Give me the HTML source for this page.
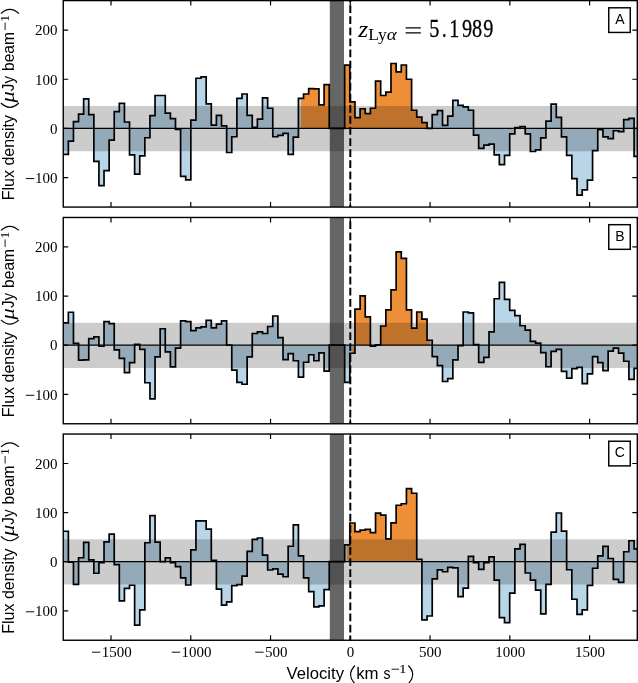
<!DOCTYPE html>
<html><head><meta charset="utf-8"><title>Spectra</title>
<style>html,body{margin:0;padding:0;background:#fff}svg{display:block;will-change:transform}text{fill:#000}</style>
</head><body>
<svg width="638" height="683" viewBox="0 0 638 683">
<rect width="638" height="683" fill="#fff"/>
<g>
<clipPath id="c0"><rect x="63.25" y="0.6" width="574.05" height="206.47"/></clipPath>
<g clip-path="url(#c0)">
<polygon points="63.28,128.41 63.28,154.47 68.37,154.47 68.37,141.2 73.46,141.2 73.46,121.53 78.55,121.53 78.55,114.16 83.65,114.16 83.65,98.92 88.74,98.92 88.74,114.65 93.84,114.65 93.84,161.35 98.93,161.35 98.93,185.69 104.03,185.69 104.03,170.69 109.13,170.69 109.13,140.21 114.23,140.21 114.23,111.7 119.33,111.7 119.33,103.34 124.43,103.34 124.43,122.02 129.53,122.02 129.53,154.96 134.63,154.96 134.63,174.13 139.74,174.13 139.74,155.94 144.84,155.94 144.84,137.76 149.95,137.76 149.95,115.63 155.05,115.63 155.05,95.48 160.16,95.48 160.16,95.48 165.27,95.48 165.27,113.18 170.38,113.18 170.38,118.58 175.49,118.58 175.49,129.4 180.6,129.4 180.6,176.35 185.71,176.35 185.71,179.79 190.83,179.79 190.83,120.06 195.94,120.06 195.94,78.27 201.05,78.27 201.05,76.8 206.17,76.8 206.17,103.84 211.29,103.84 211.29,125.22 216.41,125.22 216.41,115.39 221.52,115.39 221.52,125.96 226.64,125.96 226.64,152.5 231.77,152.5 231.77,136.77 236.89,136.77 236.89,98.43 242.01,98.43 242.01,94 247.13,94 247.13,115.39 252.26,115.39 252.26,127.28 257.38,127.28 257.38,119.07 262.51,119.07 262.51,97.94 267.64,97.94 267.64,108.26 272.77,108.26 272.77,136.77 277.89,136.77 277.89,135.3 283.02,135.3 283.02,133.33 288.16,133.33 288.16,154.47 293.29,154.47 293.29,137.07 298.42,137.07 298.42,98.43 303.55,98.43 303.55,94 308.69,94 308.69,88.6 313.83,88.6 313.83,88.84 318.96,88.84 318.96,104.82 324.1,104.82 324.1,84.66 329.24,84.66 329.24,128.41 334.38,128.41 334.38,128.41 339.52,128.41 339.52,128.41 344.66,128.41 344.66,65.2 349.8,65.2 349.8,101.87 354.95,101.87 354.95,117.6 360.09,117.6 360.09,108.75 365.24,108.75 365.24,113.67 370.38,113.67 370.38,108.26 375.53,108.26 375.53,81.22 380.68,81.22 380.68,95.48 385.83,95.48 385.83,92.04 390.98,92.04 390.98,63.52 396.13,63.52 396.13,71.88 401.28,71.88 401.28,65 406.43,65 406.43,79.26 411.59,79.26 411.59,110.23 416.74,110.23 416.74,117.11 421.9,117.11 421.9,122.71 427.05,122.71 427.05,128.41 432.21,128.41 432.21,114.65 437.37,114.65 437.37,110.72 442.53,110.72 442.53,125.47 447.69,125.47 447.69,116.12 452.85,116.12 452.85,100.39 458.01,100.39 458.01,105.31 463.18,105.31 463.18,106.78 468.34,106.78 468.34,110.23 473.51,110.23 473.51,135.05 478.67,135.05 478.67,148.37 483.84,148.37 483.84,145.13 489.01,145.13 489.01,144.15 494.18,144.15 494.18,154.96 499.35,154.96 499.35,164.55 504.52,164.55 504.52,155.45 509.69,155.45 509.69,133.82 514.86,133.82 514.86,127.68 520.04,127.68 520.04,126.69 525.21,126.69 525.21,133.82 530.39,133.82 530.39,151.52 535.56,151.52 535.56,149.85 540.74,149.85 540.74,137.95 545.92,137.95 545.92,121.14 551.1,121.14 551.1,104.08 556.28,104.08 556.28,117.45 561.46,117.45 561.46,136.92 566.64,136.92 566.64,155.45 571.83,155.45 571.83,178.56 577.01,178.56 577.01,195.03 582.2,195.03 582.2,189.86 587.38,189.86 587.38,180.03 592.57,180.03 592.57,150.54 597.76,150.54 597.76,129.64 602.94,129.64 602.94,136.92 608.13,136.92 608.13,138.64 613.33,138.64 613.33,130.77 618.52,130.77 618.52,131.66 623.71,131.66 623.71,119.57 628.9,119.57 628.9,118.29 634.1,118.29 634.1,156.29 637.3,156.29 637.3,128.41" fill="#b9d5e8"/>
<polygon points="300.99,128.41 300.99,98.43 303.55,98.43 303.55,94 308.69,94 308.69,88.6 313.83,88.6 313.83,88.84 318.96,88.84 318.96,104.82 324.1,104.82 324.1,84.66 329.24,84.66 329.24,128.41 334.38,128.41 334.38,128.41 339.52,128.41 339.52,128.41 344.66,128.41 344.66,65.2 349.8,65.2 349.8,101.87 354.95,101.87 354.95,117.6 360.09,117.6 360.09,108.75 365.24,108.75 365.24,113.67 370.38,113.67 370.38,108.26 375.53,108.26 375.53,81.22 380.68,81.22 380.68,95.48 385.83,95.48 385.83,92.04 390.98,92.04 390.98,63.52 396.13,63.52 396.13,71.88 401.28,71.88 401.28,65 406.43,65 406.43,79.26 411.59,79.26 411.59,110.23 416.74,110.23 416.74,117.11 421.9,117.11 421.9,122.71 427.05,122.71 427.05,128.41 429.63,128.41 429.63,128.41" fill="#ee8f38"/>
<rect x="63.25" y="106" width="574.05" height="45.23" fill="#000" fill-opacity="0.2"/>
<line x1="63.25" y1="128.41" x2="637.3" y2="128.41" stroke="#000" stroke-width="1.3"/>
<polyline points="63.28,154.47 68.37,154.47 68.37,141.2 73.46,141.2 73.46,121.53 78.55,121.53 78.55,114.16 83.65,114.16 83.65,98.92 88.74,98.92 88.74,114.65 93.84,114.65 93.84,161.35 98.93,161.35 98.93,185.69 104.03,185.69 104.03,170.69 109.13,170.69 109.13,140.21 114.23,140.21 114.23,111.7 119.33,111.7 119.33,103.34 124.43,103.34 124.43,122.02 129.53,122.02 129.53,154.96 134.63,154.96 134.63,174.13 139.74,174.13 139.74,155.94 144.84,155.94 144.84,137.76 149.95,137.76 149.95,115.63 155.05,115.63 155.05,95.48 160.16,95.48 160.16,95.48 165.27,95.48 165.27,113.18 170.38,113.18 170.38,118.58 175.49,118.58 175.49,129.4 180.6,129.4 180.6,176.35 185.71,176.35 185.71,179.79 190.83,179.79 190.83,120.06 195.94,120.06 195.94,78.27 201.05,78.27 201.05,76.8 206.17,76.8 206.17,103.84 211.29,103.84 211.29,125.22 216.41,125.22 216.41,115.39 221.52,115.39 221.52,125.96 226.64,125.96 226.64,152.5 231.77,152.5 231.77,136.77 236.89,136.77 236.89,98.43 242.01,98.43 242.01,94 247.13,94 247.13,115.39 252.26,115.39 252.26,127.28 257.38,127.28 257.38,119.07 262.51,119.07 262.51,97.94 267.64,97.94 267.64,108.26 272.77,108.26 272.77,136.77 277.89,136.77 277.89,135.3 283.02,135.3 283.02,133.33 288.16,133.33 288.16,154.47 293.29,154.47 293.29,137.07 298.42,137.07 298.42,98.43 303.55,98.43 303.55,94 308.69,94 308.69,88.6 313.83,88.6 313.83,88.84 318.96,88.84 318.96,104.82 324.1,104.82 324.1,84.66 329.24,84.66 329.24,128.41 334.38,128.41 334.38,128.41 339.52,128.41 339.52,128.41 344.66,128.41 344.66,65.2 349.8,65.2 349.8,101.87 354.95,101.87 354.95,117.6 360.09,117.6 360.09,108.75 365.24,108.75 365.24,113.67 370.38,113.67 370.38,108.26 375.53,108.26 375.53,81.22 380.68,81.22 380.68,95.48 385.83,95.48 385.83,92.04 390.98,92.04 390.98,63.52 396.13,63.52 396.13,71.88 401.28,71.88 401.28,65 406.43,65 406.43,79.26 411.59,79.26 411.59,110.23 416.74,110.23 416.74,117.11 421.9,117.11 421.9,122.71 427.05,122.71 427.05,128.41 432.21,128.41 432.21,114.65 437.37,114.65 437.37,110.72 442.53,110.72 442.53,125.47 447.69,125.47 447.69,116.12 452.85,116.12 452.85,100.39 458.01,100.39 458.01,105.31 463.18,105.31 463.18,106.78 468.34,106.78 468.34,110.23 473.51,110.23 473.51,135.05 478.67,135.05 478.67,148.37 483.84,148.37 483.84,145.13 489.01,145.13 489.01,144.15 494.18,144.15 494.18,154.96 499.35,154.96 499.35,164.55 504.52,164.55 504.52,155.45 509.69,155.45 509.69,133.82 514.86,133.82 514.86,127.68 520.04,127.68 520.04,126.69 525.21,126.69 525.21,133.82 530.39,133.82 530.39,151.52 535.56,151.52 535.56,149.85 540.74,149.85 540.74,137.95 545.92,137.95 545.92,121.14 551.1,121.14 551.1,104.08 556.28,104.08 556.28,117.45 561.46,117.45 561.46,136.92 566.64,136.92 566.64,155.45 571.83,155.45 571.83,178.56 577.01,178.56 577.01,195.03 582.2,195.03 582.2,189.86 587.38,189.86 587.38,180.03 592.57,180.03 592.57,150.54 597.76,150.54 597.76,129.64 602.94,129.64 602.94,136.92 608.13,136.92 608.13,138.64 613.33,138.64 613.33,130.77 618.52,130.77 618.52,131.66 623.71,131.66 623.71,119.57 628.9,119.57 628.9,118.29 634.1,118.29 634.1,156.29 637.3,156.29" fill="none" stroke="#000" stroke-width="1.7" stroke-linejoin="miter"/>
<rect x="329.8" y="0.6" width="14.2" height="206.47" fill="#000" fill-opacity="0.6"/>
<line x1="350.3" y1="0.6" x2="350.3" y2="207.07" stroke="#000" stroke-width="2.0" stroke-dasharray="7.75 3.33" stroke-dashoffset="6.45"/>
</g>
<path d="M111 0.6v5M111 207.07v-5M190.77 0.6v5M190.77 207.07v-5M270.54 0.6v5M270.54 207.07v-5M350.3 0.6v5M350.3 207.07v-5M430.06 0.6v5M430.06 207.07v-5M509.83 0.6v5M509.83 207.07v-5M589.6 0.6v5M589.6 207.07v-5M63.25 177.57h5M637.3 177.57h-5M63.25 128.41h5M637.3 128.41h-5M63.25 79.26h5M637.3 79.26h-5M63.25 30.1h5M637.3 30.1h-5" stroke="#000" stroke-width="1.2" fill="none"/>
<rect x="63.25" y="0.6" width="574.05" height="206.47" fill="none" stroke="#000" stroke-width="1.4"/>
<text x="57.5" y="182.87" text-anchor="end" font-family="Liberation Serif, serif" font-size="15">100</text>
<path d="M25.9 178.57h8.4" stroke="#000" stroke-width="0.95"/>
<text x="57.5" y="133.71" text-anchor="end" font-family="Liberation Serif, serif" font-size="15">0</text>
<text x="57.5" y="84.56" text-anchor="end" font-family="Liberation Serif, serif" font-size="15">100</text>
<text x="57.5" y="35.4" text-anchor="end" font-family="Liberation Serif, serif" font-size="15">200</text>
<rect x="608.75" y="7.8" width="21.5" height="24.65" fill="#fff" stroke="#000" stroke-width="1.45"/>
<text x="619.8" y="23.9" text-anchor="middle" font-family="Liberation Sans, sans-serif" font-size="14">A</text>
<g transform="translate(14.2,199.2) rotate(-90)" font-family="Liberation Sans, sans-serif" font-size="16.2">
<text x="-1.1" y="0" textLength="30.3" lengthAdjust="spacingAndGlyphs">Flux</text>
<text x="33.6" y="0" textLength="50.6" lengthAdjust="spacingAndGlyphs">density</text>
<path d="M96.2 -13.3Q87.6 -4.3 96.2 4.7" fill="none" stroke="#000" stroke-width="1.15"/>
<text x="96.6" y="0" font-family="Liberation Serif, serif" font-style="italic" font-size="18.5" textLength="11.2" lengthAdjust="spacingAndGlyphs">μ</text>
<text x="108" y="0" textLength="15.2" lengthAdjust="spacingAndGlyphs">Jy</text>
<text x="128.2" y="0" textLength="39" lengthAdjust="spacingAndGlyphs">beam</text>
<path d="M169.2 -9.1h7.4" stroke="#000" stroke-width="0.9"/>
<text x="177.3" y="-5.7" font-size="11.6" font-family="Liberation Serif, serif" textLength="7.2" lengthAdjust="spacingAndGlyphs">1</text>
<path d="M185.7 -13.3Q193.9 -4.3 185.7 4.7" fill="none" stroke="#000" stroke-width="1.15"/>
</g>
</g>
<g>
<clipPath id="c1"><rect x="63.25" y="217.48" width="574.05" height="206.28"/></clipPath>
<g clip-path="url(#c1)">
<polygon points="63.28,345.18 63.28,322.78 68.37,322.78 68.37,312.27 73.46,312.27 73.46,343.46 78.55,343.46 78.55,360.21 83.65,360.21 83.65,359.81 88.74,359.81 88.74,338.55 93.84,338.55 93.84,336.83 98.93,336.83 98.93,346.06 104.03,346.06 104.03,321.6 109.13,321.6 109.13,323.57 114.23,323.57 114.23,349.84 119.33,349.84 119.33,358.44 124.43,358.44 124.43,372.68 129.53,372.68 129.53,362.61 134.63,362.61 134.63,344.39 139.74,344.39 139.74,349.45 144.84,349.45 144.84,382.75 149.95,382.75 149.95,398.96 155.05,398.96 155.05,356.96 160.16,356.96 160.16,328.77 165.27,328.77 165.27,351.91 170.38,351.91 170.38,366.79 175.49,366.79 175.49,348.12 180.6,348.12 180.6,320.87 185.71,320.87 185.71,321.6 190.83,321.6 190.83,330.64 195.94,330.64 195.94,327.84 201.05,327.84 201.05,326.91 206.17,326.91 206.17,320.33 211.29,320.33 211.29,327.84 216.41,327.84 216.41,324.06 221.52,324.06 221.52,320.87 226.64,320.87 226.64,345.18 231.77,345.18 231.77,370.18 236.89,370.18 236.89,382.41 242.01,382.41 242.01,384.27 247.13,384.27 247.13,356.96 252.26,356.96 252.26,333.49 257.38,333.49 257.38,331.97 262.51,331.97 262.51,333.49 267.64,333.49 267.64,326.51 272.77,326.51 272.77,316 277.89,316 277.89,337.61 283.02,337.61 283.02,359.67 288.16,359.67 288.16,353.53 293.29,353.53 293.29,360.75 298.42,360.75 298.42,377.1 303.55,377.1 303.55,362.27 308.69,362.27 308.69,354.75 313.83,354.75 313.83,360.75 318.96,360.75 318.96,352.84 324.1,352.84 324.1,371.11 329.24,371.11 329.24,345.18 334.38,345.18 334.38,345.18 339.52,345.18 339.52,345.18 344.66,345.18 344.66,382.41 349.8,382.41 349.8,353.23 354.95,353.23 354.95,309.03 360.09,309.03 360.09,295.87 365.24,295.87 365.24,316.94 370.38,316.94 370.38,346.06 375.53,346.06 375.53,344.78 380.68,344.78 380.68,326.02 385.83,326.02 385.83,309.81 390.98,309.81 390.98,289.92 396.13,289.92 396.13,251.86 401.28,251.86 401.28,258.39 406.43,258.39 406.43,309.81 411.59,309.81 411.59,328.18 416.74,328.18 416.74,312.02 421.9,312.02 421.9,319.15 427.05,319.15 427.05,340.27 432.21,340.27 432.21,356.72 437.37,356.72 437.37,365.56 442.53,365.56 442.53,381.52 447.69,381.52 447.69,378.57 452.85,378.57 452.85,359.91 458.01,359.91 458.01,345.67 463.18,345.67 463.18,312.02 468.34,312.02 468.34,312.96 473.51,312.96 473.51,344.69 478.67,344.69 478.67,362.37 483.84,362.37 483.84,357.46 489.01,357.46 489.01,331.92 494.18,331.92 494.18,298.76 499.35,298.76 499.35,282.31 504.52,282.31 504.52,299.4 509.69,299.4 509.69,310.31 514.86,310.31 514.86,315.56 520.04,315.56 520.04,325.73 525.21,325.73 525.21,330.05 530.39,330.05 530.39,341.35 535.56,341.35 535.56,343.21 540.74,343.21 540.74,352.64 545.92,352.64 545.92,366.74 551.1,366.74 551.1,351.32 556.28,351.32 556.28,349.45 561.46,349.45 561.46,371.45 566.64,371.45 566.64,378.03 571.83,378.03 571.83,368.6 577.01,368.6 577.01,367.28 582.2,367.28 582.2,383.68 587.38,383.68 587.38,373.86 592.57,373.86 592.57,356.72 597.76,356.72 597.76,362.61 602.94,362.61 602.94,370.57 608.13,370.57 608.13,351.22 613.33,351.22 613.33,348.12 618.52,348.12 618.52,353.04 623.71,353.04 623.71,361.24 628.9,361.24 628.9,379.41 634.1,379.41 634.1,368.46 637.3,368.46 637.3,345.18" fill="#b9d5e8"/>
<polygon points="352.38,345.18 352.38,353.23 354.95,353.23 354.95,309.03 360.09,309.03 360.09,295.87 365.24,295.87 365.24,316.94 370.38,316.94 370.38,346.06 375.53,346.06 375.53,344.78 380.68,344.78 380.68,326.02 385.83,326.02 385.83,309.81 390.98,309.81 390.98,289.92 396.13,289.92 396.13,251.86 401.28,251.86 401.28,258.39 406.43,258.39 406.43,309.81 411.59,309.81 411.59,328.18 416.74,328.18 416.74,312.02 421.9,312.02 421.9,319.15 427.05,319.15 427.05,340.27 429.63,340.27 429.63,345.18" fill="#ee8f38"/>
<rect x="63.25" y="322.78" width="574.05" height="45.19" fill="#000" fill-opacity="0.2"/>
<line x1="63.25" y1="345.18" x2="637.3" y2="345.18" stroke="#000" stroke-width="1.3"/>
<polyline points="63.28,322.78 68.37,322.78 68.37,312.27 73.46,312.27 73.46,343.46 78.55,343.46 78.55,360.21 83.65,360.21 83.65,359.81 88.74,359.81 88.74,338.55 93.84,338.55 93.84,336.83 98.93,336.83 98.93,346.06 104.03,346.06 104.03,321.6 109.13,321.6 109.13,323.57 114.23,323.57 114.23,349.84 119.33,349.84 119.33,358.44 124.43,358.44 124.43,372.68 129.53,372.68 129.53,362.61 134.63,362.61 134.63,344.39 139.74,344.39 139.74,349.45 144.84,349.45 144.84,382.75 149.95,382.75 149.95,398.96 155.05,398.96 155.05,356.96 160.16,356.96 160.16,328.77 165.27,328.77 165.27,351.91 170.38,351.91 170.38,366.79 175.49,366.79 175.49,348.12 180.6,348.12 180.6,320.87 185.71,320.87 185.71,321.6 190.83,321.6 190.83,330.64 195.94,330.64 195.94,327.84 201.05,327.84 201.05,326.91 206.17,326.91 206.17,320.33 211.29,320.33 211.29,327.84 216.41,327.84 216.41,324.06 221.52,324.06 221.52,320.87 226.64,320.87 226.64,345.18 231.77,345.18 231.77,370.18 236.89,370.18 236.89,382.41 242.01,382.41 242.01,384.27 247.13,384.27 247.13,356.96 252.26,356.96 252.26,333.49 257.38,333.49 257.38,331.97 262.51,331.97 262.51,333.49 267.64,333.49 267.64,326.51 272.77,326.51 272.77,316 277.89,316 277.89,337.61 283.02,337.61 283.02,359.67 288.16,359.67 288.16,353.53 293.29,353.53 293.29,360.75 298.42,360.75 298.42,377.1 303.55,377.1 303.55,362.27 308.69,362.27 308.69,354.75 313.83,354.75 313.83,360.75 318.96,360.75 318.96,352.84 324.1,352.84 324.1,371.11 329.24,371.11 329.24,345.18 334.38,345.18 334.38,345.18 339.52,345.18 339.52,345.18 344.66,345.18 344.66,382.41 349.8,382.41 349.8,353.23 354.95,353.23 354.95,309.03 360.09,309.03 360.09,295.87 365.24,295.87 365.24,316.94 370.38,316.94 370.38,346.06 375.53,346.06 375.53,344.78 380.68,344.78 380.68,326.02 385.83,326.02 385.83,309.81 390.98,309.81 390.98,289.92 396.13,289.92 396.13,251.86 401.28,251.86 401.28,258.39 406.43,258.39 406.43,309.81 411.59,309.81 411.59,328.18 416.74,328.18 416.74,312.02 421.9,312.02 421.9,319.15 427.05,319.15 427.05,340.27 432.21,340.27 432.21,356.72 437.37,356.72 437.37,365.56 442.53,365.56 442.53,381.52 447.69,381.52 447.69,378.57 452.85,378.57 452.85,359.91 458.01,359.91 458.01,345.67 463.18,345.67 463.18,312.02 468.34,312.02 468.34,312.96 473.51,312.96 473.51,344.69 478.67,344.69 478.67,362.37 483.84,362.37 483.84,357.46 489.01,357.46 489.01,331.92 494.18,331.92 494.18,298.76 499.35,298.76 499.35,282.31 504.52,282.31 504.52,299.4 509.69,299.4 509.69,310.31 514.86,310.31 514.86,315.56 520.04,315.56 520.04,325.73 525.21,325.73 525.21,330.05 530.39,330.05 530.39,341.35 535.56,341.35 535.56,343.21 540.74,343.21 540.74,352.64 545.92,352.64 545.92,366.74 551.1,366.74 551.1,351.32 556.28,351.32 556.28,349.45 561.46,349.45 561.46,371.45 566.64,371.45 566.64,378.03 571.83,378.03 571.83,368.6 577.01,368.6 577.01,367.28 582.2,367.28 582.2,383.68 587.38,383.68 587.38,373.86 592.57,373.86 592.57,356.72 597.76,356.72 597.76,362.61 602.94,362.61 602.94,370.57 608.13,370.57 608.13,351.22 613.33,351.22 613.33,348.12 618.52,348.12 618.52,353.04 623.71,353.04 623.71,361.24 628.9,361.24 628.9,379.41 634.1,379.41 634.1,368.46 637.3,368.46" fill="none" stroke="#000" stroke-width="1.7" stroke-linejoin="miter"/>
<rect x="329.8" y="217.48" width="14.2" height="206.28" fill="#000" fill-opacity="0.6"/>
<line x1="350.3" y1="217.48" x2="350.3" y2="423.76" stroke="#000" stroke-width="2.0" stroke-dasharray="7.75 3.33" stroke-dashoffset="7.2"/>
</g>
<path d="M111 217.48v5M111 423.76v-5M190.77 217.48v5M190.77 423.76v-5M270.54 217.48v5M270.54 423.76v-5M350.3 217.48v5M350.3 423.76v-5M430.06 217.48v5M430.06 423.76v-5M509.83 217.48v5M509.83 423.76v-5M589.6 217.48v5M589.6 423.76v-5M63.25 394.29h5M637.3 394.29h-5M63.25 345.18h5M637.3 345.18h-5M63.25 296.06h5M637.3 296.06h-5M63.25 246.95h5M637.3 246.95h-5" stroke="#000" stroke-width="1.2" fill="none"/>
<rect x="63.25" y="217.48" width="574.05" height="206.28" fill="none" stroke="#000" stroke-width="1.4"/>
<text x="57.5" y="399.59" text-anchor="end" font-family="Liberation Serif, serif" font-size="15">100</text>
<path d="M25.9 395.29h8.4" stroke="#000" stroke-width="0.95"/>
<text x="57.5" y="350.48" text-anchor="end" font-family="Liberation Serif, serif" font-size="15">0</text>
<text x="57.5" y="301.36" text-anchor="end" font-family="Liberation Serif, serif" font-size="15">100</text>
<text x="57.5" y="252.25" text-anchor="end" font-family="Liberation Serif, serif" font-size="15">200</text>
<rect x="608.75" y="224.68" width="21.5" height="24.65" fill="#fff" stroke="#000" stroke-width="1.45"/>
<text x="619.8" y="240.78" text-anchor="middle" font-family="Liberation Sans, sans-serif" font-size="14">B</text>
<g transform="translate(14.2,416.08) rotate(-90)" font-family="Liberation Sans, sans-serif" font-size="16.2">
<text x="-1.1" y="0" textLength="30.3" lengthAdjust="spacingAndGlyphs">Flux</text>
<text x="33.6" y="0" textLength="50.6" lengthAdjust="spacingAndGlyphs">density</text>
<path d="M96.2 -13.3Q87.6 -4.3 96.2 4.7" fill="none" stroke="#000" stroke-width="1.15"/>
<text x="96.6" y="0" font-family="Liberation Serif, serif" font-style="italic" font-size="18.5" textLength="11.2" lengthAdjust="spacingAndGlyphs">μ</text>
<text x="108" y="0" textLength="15.2" lengthAdjust="spacingAndGlyphs">Jy</text>
<text x="128.2" y="0" textLength="39" lengthAdjust="spacingAndGlyphs">beam</text>
<path d="M169.2 -9.1h7.4" stroke="#000" stroke-width="0.9"/>
<text x="177.3" y="-5.7" font-size="11.6" font-family="Liberation Serif, serif" textLength="7.2" lengthAdjust="spacingAndGlyphs">1</text>
<path d="M185.7 -13.3Q193.9 -4.3 185.7 4.7" fill="none" stroke="#000" stroke-width="1.15"/>
</g>
</g>
<g>
<clipPath id="c2"><rect x="63.25" y="434.04" width="574.05" height="206.21"/></clipPath>
<g clip-path="url(#c2)">
<polygon points="63.28,561.69 63.28,531.25 68.37,531.25 68.37,562.18 73.46,562.18 73.46,584.28 78.55,584.28 78.55,557.77 83.65,557.77 83.65,542.35 88.74,542.35 88.74,559.88 93.84,559.88 93.84,573.23 98.93,573.23 98.93,562.68 104.03,562.68 104.03,541.81 109.13,541.81 109.13,534.2 114.23,534.2 114.23,564.64 119.33,564.64 119.33,600.82 124.43,600.82 124.43,588.45 129.53,588.45 129.53,585.26 134.63,585.26 134.63,625.03 139.74,625.03 139.74,609.81 144.84,609.81 144.84,542.74 149.95,542.74 149.95,515.54 155.05,515.54 155.05,542.15 160.16,542.15 160.16,561.69 165.27,561.69 165.27,557.96 170.38,557.96 170.38,562.68 175.49,562.68 175.49,566.6 180.6,566.6 180.6,577.9 185.71,577.9 185.71,585.02 190.83,585.02 190.83,549.81 195.94,549.81 195.94,520.84 201.05,520.84 201.05,520.84 206.17,520.84 206.17,529.04 211.29,529.04 211.29,560.47 216.41,560.47 216.41,589.04 221.52,589.04 221.52,605.19 226.64,605.19 226.64,601.81 231.77,601.81 231.77,585.6 236.89,585.6 236.89,584.62 242.01,584.62 242.01,576.08 247.13,576.08 247.13,551.38 252.26,551.38 252.26,539.31 257.38,539.31 257.38,537.98 262.51,537.98 262.51,555.11 267.64,555.11 267.64,569.99 272.77,569.99 272.77,568.81 277.89,568.81 277.89,574.16 283.02,574.16 283.02,576.77 288.16,576.77 288.16,546.23 293.29,546.23 293.29,524.87 298.42,524.87 298.42,555.8 303.55,555.8 303.55,577.9 308.69,577.9 308.69,591.55 313.83,591.55 313.83,606.81 318.96,606.81 318.96,605.88 324.1,605.88 324.1,589.68 329.24,589.68 329.24,561.69 334.38,561.69 334.38,561.69 339.52,561.69 339.52,561.69 344.66,561.69 344.66,544.9 349.8,544.9 349.8,523 354.95,523 354.95,531.55 360.09,531.55 360.09,530.03 365.24,530.03 365.24,529.29 370.38,529.29 370.38,532.53 375.53,532.53 375.53,513.09 380.68,513.09 380.68,515.05 385.83,515.05 385.83,538.81 390.98,538.81 390.98,522.91 396.13,522.91 396.13,505.23 401.28,505.23 401.28,503.76 406.43,503.76 406.43,488.54 411.59,488.54 411.59,493.25 416.74,493.25 416.74,559.24 421.9,559.24 421.9,619.78 427.05,619.78 427.05,616 432.21,616 432.21,578.88 437.37,578.88 437.37,569.89 442.53,569.89 442.53,571.76 447.69,571.76 447.69,567.29 452.85,567.29 452.85,567.88 458.01,567.88 458.01,596.55 463.18,596.55 463.18,588.06 468.34,588.06 468.34,556.44 473.51,556.44 473.51,562.58 478.67,562.58 478.67,569.35 483.84,569.35 483.84,562.68 489.01,562.68 489.01,556.78 494.18,556.78 494.18,580.06 499.35,580.06 499.35,617.67 504.52,617.67 504.52,622.57 509.69,622.57 509.69,593.12 514.86,593.12 514.86,548.78 520.04,548.78 520.04,544.41 525.21,544.41 525.21,572.99 530.39,572.99 530.39,580.2 535.56,580.2 535.56,590.17 540.74,590.17 540.74,613.93 545.92,613.93 545.92,584.43 551.1,584.43 551.1,532.04 556.28,532.04 556.28,512.99 561.46,512.99 561.46,531.11 566.64,531.11 566.64,569.75 571.83,569.75 571.83,599.25 577.01,599.25 577.01,614.47 582.2,614.47 582.2,609.81 587.38,609.81 587.38,585.36 592.57,585.36 592.57,568.27 597.76,568.27 597.76,555.8 602.94,555.8 602.94,546.47 608.13,546.47 608.13,558.5 613.33,558.5 613.33,579.37 618.52,579.37 618.52,582.31 623.71,582.31 623.71,551.73 628.9,551.73 628.9,540.73 634.1,540.73 634.1,548.78 637.3,548.78 637.3,561.69" fill="#b9d5e8"/>
<polygon points="347.23,561.69 347.23,544.9 349.8,544.9 349.8,523 354.95,523 354.95,531.55 360.09,531.55 360.09,530.03 365.24,530.03 365.24,529.29 370.38,529.29 370.38,532.53 375.53,532.53 375.53,513.09 380.68,513.09 380.68,515.05 385.83,515.05 385.83,538.81 390.98,538.81 390.98,522.91 396.13,522.91 396.13,505.23 401.28,505.23 401.28,503.76 406.43,503.76 406.43,488.54 411.59,488.54 411.59,493.25 416.74,493.25 416.74,559.24 419.32,559.24 419.32,561.69" fill="#ee8f38"/>
<rect x="63.25" y="539.31" width="574.05" height="45.17" fill="#000" fill-opacity="0.2"/>
<line x1="63.25" y1="561.69" x2="637.3" y2="561.69" stroke="#000" stroke-width="1.3"/>
<polyline points="63.28,531.25 68.37,531.25 68.37,562.18 73.46,562.18 73.46,584.28 78.55,584.28 78.55,557.77 83.65,557.77 83.65,542.35 88.74,542.35 88.74,559.88 93.84,559.88 93.84,573.23 98.93,573.23 98.93,562.68 104.03,562.68 104.03,541.81 109.13,541.81 109.13,534.2 114.23,534.2 114.23,564.64 119.33,564.64 119.33,600.82 124.43,600.82 124.43,588.45 129.53,588.45 129.53,585.26 134.63,585.26 134.63,625.03 139.74,625.03 139.74,609.81 144.84,609.81 144.84,542.74 149.95,542.74 149.95,515.54 155.05,515.54 155.05,542.15 160.16,542.15 160.16,561.69 165.27,561.69 165.27,557.96 170.38,557.96 170.38,562.68 175.49,562.68 175.49,566.6 180.6,566.6 180.6,577.9 185.71,577.9 185.71,585.02 190.83,585.02 190.83,549.81 195.94,549.81 195.94,520.84 201.05,520.84 201.05,520.84 206.17,520.84 206.17,529.04 211.29,529.04 211.29,560.47 216.41,560.47 216.41,589.04 221.52,589.04 221.52,605.19 226.64,605.19 226.64,601.81 231.77,601.81 231.77,585.6 236.89,585.6 236.89,584.62 242.01,584.62 242.01,576.08 247.13,576.08 247.13,551.38 252.26,551.38 252.26,539.31 257.38,539.31 257.38,537.98 262.51,537.98 262.51,555.11 267.64,555.11 267.64,569.99 272.77,569.99 272.77,568.81 277.89,568.81 277.89,574.16 283.02,574.16 283.02,576.77 288.16,576.77 288.16,546.23 293.29,546.23 293.29,524.87 298.42,524.87 298.42,555.8 303.55,555.8 303.55,577.9 308.69,577.9 308.69,591.55 313.83,591.55 313.83,606.81 318.96,606.81 318.96,605.88 324.1,605.88 324.1,589.68 329.24,589.68 329.24,561.69 334.38,561.69 334.38,561.69 339.52,561.69 339.52,561.69 344.66,561.69 344.66,544.9 349.8,544.9 349.8,523 354.95,523 354.95,531.55 360.09,531.55 360.09,530.03 365.24,530.03 365.24,529.29 370.38,529.29 370.38,532.53 375.53,532.53 375.53,513.09 380.68,513.09 380.68,515.05 385.83,515.05 385.83,538.81 390.98,538.81 390.98,522.91 396.13,522.91 396.13,505.23 401.28,505.23 401.28,503.76 406.43,503.76 406.43,488.54 411.59,488.54 411.59,493.25 416.74,493.25 416.74,559.24 421.9,559.24 421.9,619.78 427.05,619.78 427.05,616 432.21,616 432.21,578.88 437.37,578.88 437.37,569.89 442.53,569.89 442.53,571.76 447.69,571.76 447.69,567.29 452.85,567.29 452.85,567.88 458.01,567.88 458.01,596.55 463.18,596.55 463.18,588.06 468.34,588.06 468.34,556.44 473.51,556.44 473.51,562.58 478.67,562.58 478.67,569.35 483.84,569.35 483.84,562.68 489.01,562.68 489.01,556.78 494.18,556.78 494.18,580.06 499.35,580.06 499.35,617.67 504.52,617.67 504.52,622.57 509.69,622.57 509.69,593.12 514.86,593.12 514.86,548.78 520.04,548.78 520.04,544.41 525.21,544.41 525.21,572.99 530.39,572.99 530.39,580.2 535.56,580.2 535.56,590.17 540.74,590.17 540.74,613.93 545.92,613.93 545.92,584.43 551.1,584.43 551.1,532.04 556.28,532.04 556.28,512.99 561.46,512.99 561.46,531.11 566.64,531.11 566.64,569.75 571.83,569.75 571.83,599.25 577.01,599.25 577.01,614.47 582.2,614.47 582.2,609.81 587.38,609.81 587.38,585.36 592.57,585.36 592.57,568.27 597.76,568.27 597.76,555.8 602.94,555.8 602.94,546.47 608.13,546.47 608.13,558.5 613.33,558.5 613.33,579.37 618.52,579.37 618.52,582.31 623.71,582.31 623.71,551.73 628.9,551.73 628.9,540.73 634.1,540.73 634.1,548.78 637.3,548.78" fill="none" stroke="#000" stroke-width="1.7" stroke-linejoin="miter"/>
<rect x="329.8" y="434.04" width="14.2" height="206.21" fill="#000" fill-opacity="0.6"/>
<line x1="350.3" y1="434.04" x2="350.3" y2="640.25" stroke="#000" stroke-width="2.0" stroke-dasharray="7.75 3.33" stroke-dashoffset="8.85"/>
</g>
<path d="M111 434.04v5M111 640.25v-5M190.77 434.04v5M190.77 640.25v-5M270.54 434.04v5M270.54 640.25v-5M350.3 434.04v5M350.3 640.25v-5M430.06 434.04v5M430.06 640.25v-5M509.83 434.04v5M509.83 640.25v-5M589.6 434.04v5M589.6 640.25v-5M63.25 610.79h5M637.3 610.79h-5M63.25 561.69h5M637.3 561.69h-5M63.25 512.6h5M637.3 512.6h-5M63.25 463.5h5M637.3 463.5h-5" stroke="#000" stroke-width="1.2" fill="none"/>
<rect x="63.25" y="434.04" width="574.05" height="206.21" fill="none" stroke="#000" stroke-width="1.4"/>
<text x="57.5" y="616.09" text-anchor="end" font-family="Liberation Serif, serif" font-size="15">100</text>
<path d="M25.9 611.79h8.4" stroke="#000" stroke-width="0.95"/>
<text x="57.5" y="566.99" text-anchor="end" font-family="Liberation Serif, serif" font-size="15">0</text>
<text x="57.5" y="517.9" text-anchor="end" font-family="Liberation Serif, serif" font-size="15">100</text>
<text x="57.5" y="468.8" text-anchor="end" font-family="Liberation Serif, serif" font-size="15">200</text>
<rect x="608.75" y="441.24" width="21.5" height="24.65" fill="#fff" stroke="#000" stroke-width="1.45"/>
<text x="619.8" y="457.34" text-anchor="middle" font-family="Liberation Sans, sans-serif" font-size="14">C</text>
<g transform="translate(14.2,632.64) rotate(-90)" font-family="Liberation Sans, sans-serif" font-size="16.2">
<text x="-1.1" y="0" textLength="30.3" lengthAdjust="spacingAndGlyphs">Flux</text>
<text x="33.6" y="0" textLength="50.6" lengthAdjust="spacingAndGlyphs">density</text>
<path d="M96.2 -13.3Q87.6 -4.3 96.2 4.7" fill="none" stroke="#000" stroke-width="1.15"/>
<text x="96.6" y="0" font-family="Liberation Serif, serif" font-style="italic" font-size="18.5" textLength="11.2" lengthAdjust="spacingAndGlyphs">μ</text>
<text x="108" y="0" textLength="15.2" lengthAdjust="spacingAndGlyphs">Jy</text>
<text x="128.2" y="0" textLength="39" lengthAdjust="spacingAndGlyphs">beam</text>
<path d="M169.2 -9.1h7.4" stroke="#000" stroke-width="0.9"/>
<text x="177.3" y="-5.7" font-size="11.6" font-family="Liberation Serif, serif" textLength="7.2" lengthAdjust="spacingAndGlyphs">1</text>
<path d="M185.7 -13.3Q193.9 -4.3 185.7 4.7" fill="none" stroke="#000" stroke-width="1.15"/>
</g>
</g>
<path d="M91.95 652.2h8.4" stroke="#000" stroke-width="0.95"/>
<text x="101.66" y="656.6" font-family="Liberation Serif, serif" font-size="15">1500</text>
<path d="M171.72 652.2h8.4" stroke="#000" stroke-width="0.95"/>
<text x="181.42" y="656.6" font-family="Liberation Serif, serif" font-size="15">1000</text>
<path d="M255.24 652.2h8.4" stroke="#000" stroke-width="0.95"/>
<text x="264.94" y="656.6" font-family="Liberation Serif, serif" font-size="15">500</text>
<text x="350.6" y="656.6" text-anchor="middle" font-family="Liberation Serif, serif" font-size="15">0</text>
<text x="430.37" y="656.6" text-anchor="middle" font-family="Liberation Serif, serif" font-size="15">500</text>
<text x="510.13" y="656.6" text-anchor="middle" font-family="Liberation Serif, serif" font-size="15">1000</text>
<text x="589.89" y="656.6" text-anchor="middle" font-family="Liberation Serif, serif" font-size="15">1500</text>
<g font-family="Liberation Sans, sans-serif" font-size="16.2">
<text x="286.6" y="678.9" textLength="57.4" lengthAdjust="spacingAndGlyphs">Velocity</text>
<path d="M354.9 665.5Q346.3 674.6 354.9 683.7" fill="none" stroke="#000" stroke-width="1.15"/>
<text x="356.2" y="678.9" textLength="22.4" lengthAdjust="spacingAndGlyphs">km</text>
<text x="383.4" y="678.9" textLength="7" lengthAdjust="spacingAndGlyphs">s</text>
<path d="M391.5 669.2h7.5" stroke="#000" stroke-width="0.9"/>
<text x="398.8" y="672.9" font-size="11.6" font-family="Liberation Serif, serif" textLength="8" lengthAdjust="spacingAndGlyphs">1</text>
<path d="M408.4 665.5Q417.0 674.6 408.4 683.7" fill="none" stroke="#000" stroke-width="1.15"/>
</g>
<g font-family="Liberation Serif, serif">
<text x="358.2" y="36.7" font-size="23.5" font-style="italic" textLength="10" lengthAdjust="spacingAndGlyphs">z</text>
<text x="368.3" y="39.6" font-size="16" textLength="18.4" lengthAdjust="spacingAndGlyphs">Ly</text>
<text x="386.8" y="39.6" font-size="17" font-style="italic" textLength="10" lengthAdjust="spacingAndGlyphs">α</text>
<path d="M405.6 27.8h15.2M405.6 32.8h15.2" stroke="#000" stroke-width="1.15"/>
<g transform="translate(429.3,36.8) scale(0.82,1)"><text x="0.00 15.12 24.27 39.76 52.20 65.73" y="0" font-size="24.8" stroke="#000" stroke-width="0.25">5.1989</text></g>
</g>
</svg>
</body></html>
